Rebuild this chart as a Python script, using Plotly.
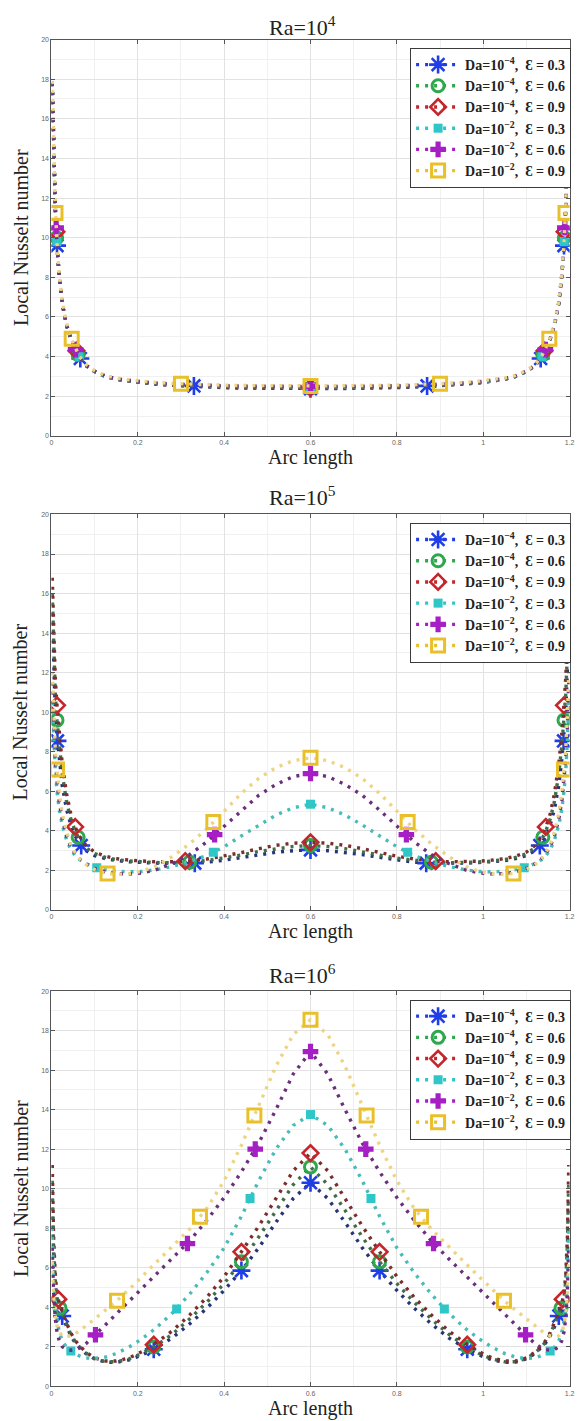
import plotly.graph_objects as go

# ---------------- data ----------------
ARC = [0.002, 0.005, 0.009, 0.013, 0.018, 0.025, 0.035, 0.045, 0.055, 0.065, 0.08, 0.1,
       0.125, 0.15, 0.18, 0.21, 0.24, 0.28, 0.32, 0.36, 0.4, 0.44, 0.48, 0.52, 0.56, 0.6,
       0.64, 0.68, 0.72, 0.76, 0.8, 0.84, 0.88, 0.92, 0.96, 0.99, 1.02, 1.05, 1.075, 1.1,
       1.12, 1.135, 1.145, 1.155, 1.165, 1.175, 1.182, 1.187, 1.191, 1.195, 1.198]

SERIES = ["Da=10<sup>−4</sup>,\u00a0\u00a0Ɛ = 0.3", "Da=10<sup>−4</sup>,\u00a0\u00a0Ɛ = 0.6",
          "Da=10<sup>−4</sup>,\u00a0\u00a0Ɛ = 0.9", "Da=10<sup>−2</sup>,\u00a0\u00a0Ɛ = 0.3",
          "Da=10<sup>−2</sup>,\u00a0\u00a0Ɛ = 0.6", "Da=10<sup>−2</sup>,\u00a0\u00a0Ɛ = 0.9"]
PANEL_TITLES = ["Ra=10<sup>4</sup>", "Ra=10<sup>5</sup>", "Ra=10<sup>6</sup>"]
X_TICKS = [0, 0.2, 0.4, 0.6, 0.8, 1, 1.2]
X_TICK_TEXT = ["0", "0.2", "0.4", "0.6", "0.8", "1", "1.2"]
Y_TICKS = [0, 2, 4, 6, 8, 10, 12, 14, 16, 18, 20]

# Ra = 1e4
RA4_B = [17.8, 14.4, 11.5, 9.6, 8.1, 6.7, 5.6, 4.9, 4.4, 3.95, 3.55, 3.25, 3.0, 2.86, 2.76, 2.68, 2.61, 2.55, 2.5, 2.46, 2.43, 2.41, 2.4, 2.39, 2.38, 2.38,
         2.38, 2.39, 2.4, 2.41, 2.43, 2.46, 2.5, 2.55, 2.61, 2.68, 2.76, 2.86, 3.0, 3.25, 3.55, 3.95, 4.4, 4.9, 5.6, 6.7, 8.1, 9.6, 11.5, 14.4, 17.8]
RA4_G = [17.8, 14.4, 11.5, 9.6, 8.1, 6.7, 5.6, 4.9, 4.4, 3.95, 3.55, 3.25, 3.0, 2.86, 2.76, 2.68, 2.62, 2.56, 2.51, 2.48, 2.45, 2.43, 2.42, 2.41, 2.41, 2.41,
         2.41, 2.41, 2.42, 2.43, 2.45, 2.48, 2.51, 2.56, 2.62, 2.68, 2.76, 2.86, 3.0, 3.25, 3.55, 3.95, 4.4, 4.9, 5.6, 6.7, 8.1, 9.6, 11.5, 14.4, 17.8]
RA4_R = [17.8, 14.4, 11.5, 9.6, 8.1, 6.7, 5.6, 4.9, 4.4, 3.95, 3.55, 3.25, 3.0, 2.86, 2.76, 2.69, 2.63, 2.57, 2.53, 2.5, 2.47, 2.45, 2.44, 2.43, 2.43, 2.43,
         2.43, 2.43, 2.44, 2.45, 2.47, 2.5, 2.53, 2.57, 2.63, 2.69, 2.76, 2.86, 3.0, 3.25, 3.55, 3.95, 4.4, 4.9, 5.6, 6.7, 8.1, 9.6, 11.5, 14.4, 17.8]
RA4_C = [17.8, 14.4, 11.5, 9.6, 8.1, 6.7, 5.6, 4.9, 4.4, 3.95, 3.55, 3.25, 3.0, 2.87, 2.78, 2.71, 2.65, 2.6, 2.56, 2.53, 2.51, 2.49, 2.48, 2.47, 2.47, 2.47,
         2.47, 2.47, 2.48, 2.49, 2.51, 2.53, 2.56, 2.6, 2.65, 2.71, 2.78, 2.87, 3.0, 3.25, 3.55, 3.95, 4.4, 4.9, 5.6, 6.7, 8.1, 9.6, 11.5, 14.4, 17.8]
RA4_P = [17.8, 14.4, 11.5, 9.6, 8.1, 6.7, 5.6, 4.9, 4.4, 3.95, 3.56, 3.27, 3.02, 2.89, 2.8, 2.73, 2.67, 2.62, 2.58, 2.55, 2.53, 2.51, 2.5, 2.5, 2.49, 2.49,
         2.49, 2.5, 2.5, 2.51, 2.53, 2.55, 2.58, 2.62, 2.67, 2.73, 2.8, 2.89, 3.02, 3.27, 3.56, 3.95, 4.4, 4.9, 5.6, 6.7, 8.1, 9.6, 11.5, 14.4, 17.8]
RA4_Y = [17.9, 14.5, 11.6, 9.7, 8.2, 6.8, 5.7, 4.95, 4.45, 4.0, 3.6, 3.3, 3.05, 2.92, 2.83, 2.76, 2.7, 2.65, 2.61, 2.58, 2.56, 2.54, 2.53, 2.53, 2.52, 2.52,
         2.52, 2.53, 2.53, 2.54, 2.56, 2.58, 2.61, 2.65, 2.7, 2.76, 2.83, 2.92, 3.05, 3.3, 3.6, 4.0, 4.45, 4.95, 5.7, 6.8, 8.2, 9.7, 11.6, 14.5, 17.9]

# Ra = 1e5
RA5_B = [15.0, 12.2, 10.0, 8.8, 7.6, 6.3, 5.1, 4.3, 3.75, 3.35, 3.0, 2.75, 2.6, 2.5, 2.44, 2.4, 2.37, 2.36, 2.37, 2.42, 2.52, 2.66, 2.8, 2.92, 3.0, 3.04,
         3.0, 2.92, 2.8, 2.66, 2.52, 2.42, 2.37, 2.36, 2.37, 2.4, 2.44, 2.5, 2.6, 2.75, 3.0, 3.35, 3.75, 4.3, 5.1, 6.3, 7.6, 8.8, 10.0, 12.2, 15.0]
RA5_G = [16.0, 13.0, 10.9, 9.6, 8.3, 6.9, 5.5, 4.6, 4.0, 3.55, 3.15, 2.85, 2.66, 2.55, 2.48, 2.43, 2.4, 2.39, 2.42, 2.5, 2.62, 2.78, 2.96, 3.1, 3.21, 3.26,
         3.21, 3.1, 2.96, 2.78, 2.62, 2.5, 2.42, 2.39, 2.4, 2.43, 2.48, 2.55, 2.66, 2.85, 3.15, 3.55, 4.0, 4.6, 5.5, 6.9, 8.3, 9.6, 10.9, 13.0, 16.0]
RA5_R = [16.8, 13.8, 11.7, 10.35, 8.9, 7.4, 5.9, 4.85, 4.2, 3.72, 3.27, 2.93, 2.72, 2.6, 2.52, 2.47, 2.44, 2.44, 2.48, 2.58, 2.72, 2.9, 3.1, 3.27, 3.38, 3.42,
         3.38, 3.27, 3.1, 2.9, 2.72, 2.58, 2.48, 2.44, 2.44, 2.47, 2.52, 2.6, 2.72, 2.93, 3.27, 3.72, 4.2, 4.85, 5.9, 7.4, 8.9, 10.35, 11.7, 13.8, 16.8]
RA5_C = [10.5, 8.6, 7.0, 6.0, 5.1, 4.3, 3.55, 3.05, 2.75, 2.55, 2.35, 2.17, 2.04, 1.96, 1.93, 1.95, 2.03, 2.2, 2.45, 2.75, 3.2, 3.75, 4.3, 4.8, 5.17, 5.35,
         5.17, 4.8, 4.3, 3.75, 3.2, 2.75, 2.45, 2.2, 2.03, 1.95, 1.93, 1.96, 2.04, 2.17, 2.35, 2.55, 2.75, 3.05, 3.55, 4.3, 5.1, 6.0, 7.0, 8.6, 10.5]
RA5_P = [11.5, 9.3, 7.6, 6.5, 5.5, 4.6, 3.75, 3.2, 2.85, 2.6, 2.33, 2.1, 1.93, 1.84, 1.82, 1.88, 2.02, 2.35, 2.8, 3.45, 4.25, 5.05, 5.8, 6.35, 6.75, 6.9,
         6.75, 6.35, 5.8, 5.05, 4.25, 3.45, 2.8, 2.35, 2.02, 1.88, 1.82, 1.84, 1.93, 2.1, 2.33, 2.6, 2.85, 3.2, 3.75, 4.6, 5.5, 6.5, 7.6, 9.3, 11.5]
RA5_Y = [12.0, 9.9, 8.1, 7.1, 5.95, 4.9, 3.95, 3.3, 2.9, 2.6, 2.3, 2.05, 1.86, 1.8, 1.83, 1.96, 2.2, 2.7, 3.35, 4.1, 5.0, 5.9, 6.65, 7.2, 7.55, 7.7,
         7.55, 7.2, 6.65, 5.9, 5.0, 4.1, 3.35, 2.7, 2.2, 1.96, 1.83, 1.8, 1.86, 2.05, 2.3, 2.6, 2.9, 3.3, 3.95, 4.9, 5.95, 7.1, 8.1, 9.9, 12.0]

# Ra = 1e6
RA6_B = [9.5, 6.6, 5.0, 4.3, 3.9, 3.55, 3.0, 2.55, 2.2, 1.95, 1.65, 1.38, 1.22, 1.2, 1.33, 1.58, 1.9, 2.45, 3.15, 3.95, 4.85, 5.85, 7.0, 8.3, 9.5, 10.3,
         9.5, 8.3, 7.0, 5.85, 4.85, 3.95, 3.15, 2.45, 1.9, 1.58, 1.33, 1.2, 1.22, 1.38, 1.65, 1.95, 2.2, 2.55, 3.0, 3.55, 3.9, 4.3, 5.0, 6.6, 9.5]
RA6_G = [10.4, 7.1, 5.3, 4.5, 4.05, 3.65, 3.1, 2.62, 2.26, 2.0, 1.68, 1.4, 1.24, 1.23, 1.38, 1.66, 2.02, 2.63, 3.4, 4.25, 5.2, 6.3, 7.55, 8.9, 10.2, 11.1,
         10.2, 8.9, 7.55, 6.3, 5.2, 4.25, 3.4, 2.63, 2.02, 1.66, 1.38, 1.23, 1.24, 1.4, 1.68, 2.0, 2.26, 2.62, 3.1, 3.65, 4.05, 4.5, 5.3, 7.1, 10.4]
RA6_R = [11.2, 7.6, 5.6, 4.7, 4.2, 3.75, 3.2, 2.7, 2.32, 2.05, 1.72, 1.43, 1.27, 1.27, 1.43, 1.75, 2.15, 2.8, 3.6, 4.5, 5.55, 6.8, 8.1, 9.5, 10.9, 11.8,
         10.9, 9.5, 8.1, 6.8, 5.55, 4.5, 3.6, 2.8, 2.15, 1.75, 1.43, 1.27, 1.27, 1.43, 1.72, 2.05, 2.32, 2.7, 3.2, 3.75, 4.2, 4.7, 5.6, 7.6, 11.2]
RA6_C = [8.0, 5.6, 4.0, 3.3, 2.75, 2.3, 1.98, 1.78, 1.63, 1.53, 1.43, 1.4, 1.47, 1.65, 1.98, 2.4, 2.9, 3.7, 4.65, 5.75, 7.0, 8.6, 10.4, 12.0, 13.2, 13.75,
         13.2, 12.0, 10.4, 8.6, 7.0, 5.75, 4.65, 3.7, 2.9, 2.4, 1.98, 1.65, 1.47, 1.4, 1.43, 1.53, 1.63, 1.78, 1.98, 2.3, 2.75, 3.3, 4.0, 5.6, 8.0]
RA6_P = [7.0, 4.8, 3.4, 2.75, 2.3, 2.0, 1.85, 1.82, 1.85, 1.93, 2.15, 2.55, 3.1, 3.65, 4.3, 4.95, 5.6, 6.45, 7.35, 8.4, 9.55, 10.85, 12.3, 14.0, 15.8, 16.94,
         15.8, 14.0, 12.3, 10.85, 9.55, 8.4, 7.35, 6.45, 5.6, 4.95, 4.3, 3.65, 3.1, 2.55, 2.15, 1.93, 1.85, 1.82, 1.85, 2.0, 2.3, 2.75, 3.4, 4.8, 7.0]
RA6_Y = [6.3, 4.6, 3.6, 3.05, 2.75, 2.55, 2.5, 2.55, 2.65, 2.8, 3.05, 3.4, 3.85, 4.3, 4.9, 5.55, 6.2, 7.05, 7.95, 9.0, 10.4, 12.2, 14.2, 16.2, 17.8, 18.55,
         17.8, 16.2, 14.2, 12.2, 10.4, 9.0, 7.95, 7.05, 6.2, 5.55, 4.9, 4.3, 3.85, 3.4, 3.05, 2.8, 2.65, 2.55, 2.5, 2.55, 2.75, 3.05, 3.6, 4.6, 6.3]

# marker positions (arc length, Nu)
RA4_MK = [
    ([0.013, 0.067, 0.33, 0.6, 0.87, 1.133, 1.187], [9.6, 3.9, 2.52, 2.38, 2.52, 3.9, 9.6]),
    ([0.012, 0.062, 0.6, 1.138, 1.188], [10.0, 4.1, 2.41, 4.1, 10.0]),
    ([0.0115, 0.058, 0.6, 1.142, 1.1885], [10.3, 4.3, 2.43, 4.3, 10.3]),
    ([0.0125, 0.064, 0.6, 1.136, 1.1875], [9.8, 4.0, 2.47, 4.0, 9.8]),
    ([0.011, 0.056, 0.6, 1.144, 1.189], [10.5, 4.35, 2.49, 4.35, 10.5]),
    ([0.0095, 0.047, 0.3, 0.6, 0.9, 1.153, 1.1905], [11.25, 4.9, 2.63, 2.52, 2.63, 4.9, 11.25]),
]
RA5_MK = [
    ([0.014, 0.069, 0.332, 0.6, 0.868, 1.131, 1.186], [8.55, 3.26, 2.37, 3.04, 2.37, 3.26, 8.55]),
    ([0.013, 0.062, 0.32, 0.6, 0.88, 1.138, 1.187], [9.6, 3.68, 2.42, 3.26, 2.42, 3.68, 9.6]),
    ([0.013, 0.055, 0.31, 0.6, 0.89, 1.145, 1.187], [10.35, 4.2, 2.47, 3.42, 2.47, 4.2, 10.35]),
    ([0.105, 0.375, 0.6, 0.825, 1.095], [2.14, 2.92, 5.35, 2.92, 2.14]),
    ([0.378, 0.6, 0.822], [3.81, 6.9, 3.81]),
    ([0.013, 0.13, 0.375, 0.6, 0.825, 1.07, 1.187], [7.1, 1.84, 4.45, 7.7, 4.45, 1.84, 7.1]),
]
RA6_MK = [
    ([0.025, 0.237, 0.44, 0.6, 0.76, 0.963, 1.175], [3.55, 1.87, 5.85, 10.3, 5.85, 1.87, 3.55]),
    ([0.02, 0.237, 0.44, 0.6, 0.76, 0.963, 1.18], [3.95, 1.98, 6.3, 11.1, 6.3, 1.98, 3.95]),
    ([0.016, 0.237, 0.44, 0.6, 0.76, 0.963, 1.184], [4.4, 2.1, 6.8, 11.8, 6.8, 2.1, 4.4]),
    ([0.045, 0.29, 0.46, 0.6, 0.74, 0.91, 1.155], [1.78, 3.9, 9.5, 13.75, 9.5, 3.9, 1.78]),
    ([0.102, 0.315, 0.472, 0.6, 0.728, 0.885, 1.098], [2.6, 7.22, 12.0, 16.94, 12.0, 7.22, 2.6]),
    ([0.152, 0.344, 0.47, 0.6, 0.73, 0.856, 1.048], [4.33, 8.58, 13.7, 18.55, 13.7, 8.58, 4.33]),
]

PANELS = [
    ([RA4_B, RA4_G, RA4_R, RA4_C, RA4_P, RA4_Y], RA4_MK),
    ([RA5_B, RA5_G, RA5_R, RA5_C, RA5_P, RA5_Y], RA5_MK),
    ([RA6_B, RA6_G, RA6_R, RA6_C, RA6_P, RA6_Y], RA6_MK),
]

# ---------------- styling ----------------
W, H = 583, 1421
LINE_COLORS = ["#27337a", "#3f6e48", "#7e2c2c", "#45bcb8", "#6c2f7c", "#ecd482"]
MK_COLORS = ["#1f3de8", "#2ea84c", "#c4262c", "#2fc6c8", "#a51fc4", "#e9c02a"]
MK_SYMBOLS = ["asterisk-open", "circle-open", "diamond-open", "square", "cross", "square-open"]
MK_SIZES = [15, 12, 12, 9, 13, 13]
MK_LW = [2.6, 3, 2.6, 0, 0, 3]
DASH = "3px,6px"
SERIF = "Liberation Serif, Times New Roman, serif"

# panel pixel geometry: (top of y=20, bottom y=0)
PIX = [(35.7, 434.0), (513.0, 910.5), (992.0, 1389.0)]
XL, XR = 50.0, 574.5
TITLE_Y = [22, 494, 975]

fig = go.Figure()
annotations = []
for p, ((ys, mks), (ptop, pbot)) in enumerate(zip(PANELS, PIX)):
    ax = "" if p == 0 else str(p + 1)
    xa, ya = "x" + ax, "y" + ax
    lg = "legend" if p == 0 else "legend" + str(p + 1)
    for i in range(6):
        fig.add_trace(go.Scatter(x=ARC, y=ys[i], mode="lines", xaxis=xa, yaxis=ya,
                                 line=dict(color=LINE_COLORS[i], width=3.4, dash=DASH),
                                 showlegend=False, hoverinfo="skip"))
        mk = dict(symbol=MK_SYMBOLS[i], size=MK_SIZES[i], color=MK_COLORS[i],
                  line=dict(color=MK_COLORS[i], width=MK_LW[i]))
        fig.add_trace(go.Scatter(x=mks[i][0], y=mks[i][1], mode="markers", xaxis=xa, yaxis=ya,
                                 marker=mk, showlegend=False, hoverinfo="skip"))
        fig.add_trace(go.Scatter(x=[None], y=[None], mode="lines+markers", xaxis=xa, yaxis=ya,
                                 name=SERIES[i], legend=lg,
                                 line=dict(color=MK_COLORS[i], width=3.4, dash=DASH),
                                 marker=mk))
    axis_common = dict(showline=True, linecolor="#555", linewidth=1, mirror="ticks",
                       ticks="inside", ticklen=4, tickcolor="#555", tickwidth=1,
                       showgrid=True, gridcolor="#e2e2e2", gridwidth=1, zeroline=False,
                       tickfont=dict(family="Liberation Sans, Arial", size=7, color="#666"))
    fig.layout["xaxis" + ax] = dict(axis_common, range=[0, 1.2],
                                    domain=[XL / W, XR / W], anchor=ya,
                                    tickvals=X_TICKS, ticktext=X_TICK_TEXT,
                                    minor=dict(dtick=0.1, tick0=0, showgrid=True, gridcolor="#f0f0f0", ticks=""))
    fig.layout["yaxis" + ax] = dict(axis_common, range=[0, 20],
                                    domain=[1 - pbot / H, 1 - ptop / H], anchor=xa,
                                    tickvals=Y_TICKS,
                                    minor=dict(dtick=1, tick0=0, showgrid=True, gridcolor="#f0f0f0", ticks=""))
    fig.layout[lg] = dict(x=576 / W, xanchor="right", y=1 - (ptop + 8.5) / H, yanchor="top",
                          bgcolor="white", bordercolor="#3a3a3a", borderwidth=1,
                          font=dict(family=SERIF, size=14, color="#222", weight="bold"),
                          itemwidth=44, tracegroupgap=0, itemclick=False)
    cx = (XL + XR) / 2 / W
    annotations.append(dict(text=PANEL_TITLES[p], x=cx - 8 / W, y=1 - TITLE_Y[p] / H, xref="paper", yref="paper",
                            showarrow=False, xanchor="center", yanchor="middle",
                            font=dict(family=SERIF, size=22, color="#222")))
    annotations.append(dict(text="Arc length", x=cx, y=1 - (pbot + 22) / H, xref="paper", yref="paper",
                            showarrow=False, xanchor="center", yanchor="middle",
                            font=dict(family=SERIF, size=20, color="#222")))
    annotations.append(dict(text="Local Nusselt number", x=18.5 / W, y=1 - (ptop + pbot) / 2 / H,
                            xref="paper", yref="paper", textangle=-90,
                            showarrow=False, xanchor="center", yanchor="middle",
                            font=dict(family=SERIF, size=20, color="#222")))

fig.update_layout(width=W, height=H, margin=dict(l=0, r=0, t=0, b=0),
                  paper_bgcolor="white", plot_bgcolor="white",
                  annotations=annotations, showlegend=True)
fig.write_html("out.html")
